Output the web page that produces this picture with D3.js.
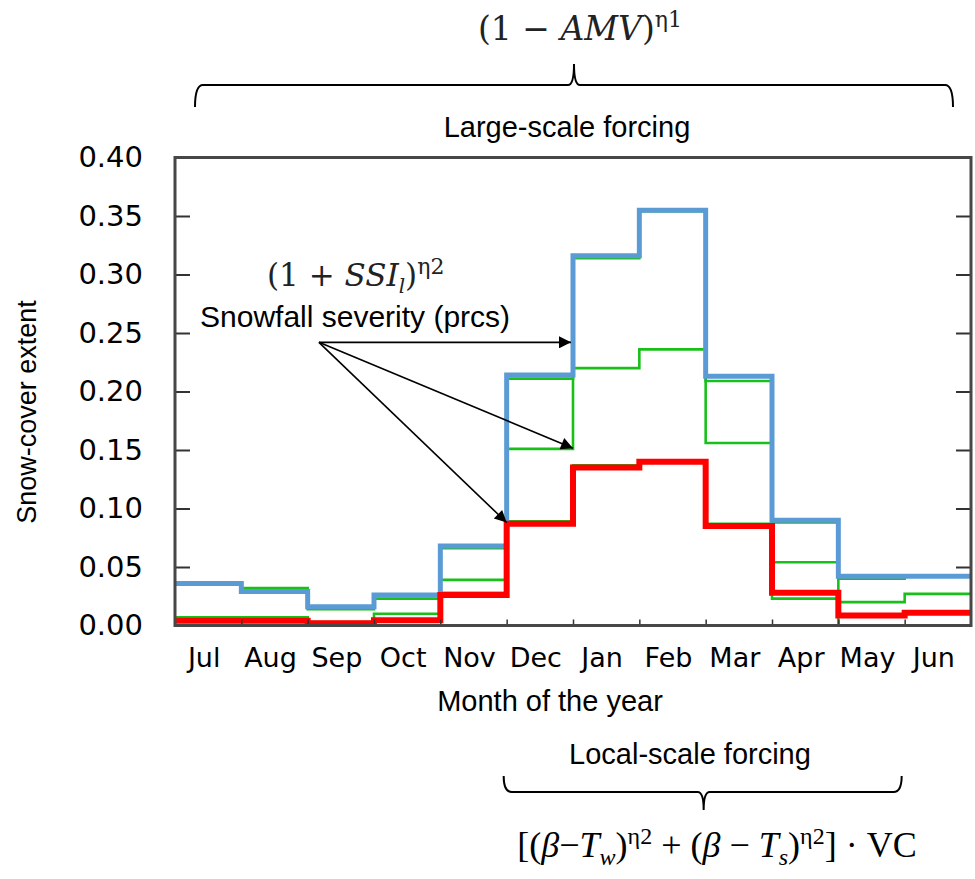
<!DOCTYPE html>
<html>
<head>
<meta charset="utf-8">
<script src="https://cdn.jsdelivr.net/npm/d3@7"></script>
<style>
body { margin: 0; background: #fff; }
.lbl { font-family: "Liberation Sans", Arial, sans-serif; font-size: 29px; fill: #000; }
.tk text { font-family: "DejaVu Sans", sans-serif; fill: #000; }
.fm { font-family: "DejaVu Serif", serif; fill: #222; }
.fm2 { font-family: "Liberation Serif", "Times New Roman", serif; fill: #000; }
</style>
</head>
<body>
<div id="chart"></div>
<script>
var months = ["Jul","Aug","Sep","Oct","Nov","Dec","Jan","Feb","Mar","Apr","May","Jun"];
var yTicks = [0, 0.05, 0.10, 0.15, 0.20, 0.25, 0.30, 0.35, 0.40];

// snow-cover extent per month
var blueVals  = [0.036, 0.029, 0.016, 0.026, 0.068, 0.214, 0.316, 0.355, 0.213, 0.090, 0.042, 0.042];
var greenHigh = [0.035, 0.032, 0.014, 0.023, 0.066, 0.211, 0.314, 0.354, 0.209, 0.088, 0.040, 0.042];
var greenMid  = [0.007, 0.007, 0.003, 0.010, 0.039, 0.151, 0.220, 0.236, 0.156, 0.054, 0.020, 0.027];
var greenLow  = [0.004, 0.004, 0.001, 0.005, 0.028, 0.089, 0.137, 0.141, 0.087, 0.023, 0.000, 0.000];
var redVals   = [0.004, 0.004, 0.002, 0.0045, 0.026, 0.087, 0.135, 0.140, 0.085, 0.028, 0.0085, 0.011];

var W = 975, H = 879;
var L = 175, R = 971, T = 157.5, B = 625.5;

var svg = d3.select("#chart").append("svg").attr("width", W).attr("height", H);

var xLin = d3.scaleLinear().domain([0, 12]).range([L, R]);
var xBand = d3.scaleBand().domain(months).range([L, R]);
var y = d3.scaleLinear().domain([0, 0.4]).range([B, T]);

var line = d3.line()
    .curve(d3.curveStepAfter)
    .x(function(d) { return xLin(d[0]); })
    .y(function(d) { return y(d[1]); });

function steps(vals) {
	var pts = vals.map(function(v, i) { return [i, v]; });
	pts.push([vals.length, vals[vals.length - 1]]);
	return pts;
}

svg.append("defs").append("clipPath").attr("id", "clip")
	.append("rect").attr("x", L).attr("y", T).attr("width", R - L).attr("height", B - T);

var series = [
	{ vals: greenLow,  color: "#19c019", w: 2.6 },
	{ vals: greenMid,  color: "#19c019", w: 2.6 },
	{ vals: greenHigh, color: "#19c019", w: 2.6 },
	{ vals: blueVals,  color: "#5b9bd5", w: 5 },
	{ vals: redVals,   color: "#ff0000", w: 6 }
];

var plot = svg.append("g").attr("clip-path", "url(#clip)");
for (var k = 0; k < series.length; k++) {
	plot.append("path").datum(steps(series[k].vals))
		.attr("fill", "none")
		.attr("stroke", series[k].color)
		.attr("stroke-width", series[k].w)
		.attr("stroke-linejoin", "miter")
		.attr("d", line);
}

// y axis, ticks pointing inward
var yAxis = d3.axisLeft(y).tickValues(yTicks).tickFormat(d3.format(".2f")).tickSize(-15).tickPadding(32);
var gy = svg.append("g").attr("class", "tk").attr("transform", "translate(" + L + ",0)").call(yAxis);
gy.select(".domain").remove();
gy.selectAll("line").attr("stroke", "#333").attr("stroke-width", 2);
gy.selectAll("text").attr("font-size", 29);

var gyr = svg.append("g").attr("class", "tk").attr("transform", "translate(" + R + ",0)")
	.call(d3.axisRight(y).tickValues(yTicks).tickSize(-15).tickFormat(""));
gyr.select(".domain").remove();
gyr.selectAll("line").attr("stroke", "#333").attr("stroke-width", 2);

// x axis: month labels plus short ticks at bin edges
var xAxis = d3.axisBottom(xBand).tickSize(0).tickPadding(22);
var gx = svg.append("g").attr("class", "tk").attr("transform", "translate(0," + B + ")").call(xAxis);
gx.select(".domain").remove();
gx.selectAll("text").attr("font-size", 27).attr("dx", -4);

var gxe = svg.append("g").attr("class", "tk").attr("transform", "translate(0," + B + ")")
	.call(d3.axisBottom(xLin).tickValues(d3.range(1, 12)).tickSize(-6).tickFormat(""));
gxe.select(".domain").remove();
gxe.selectAll("line").attr("stroke", "#333").attr("stroke-width", 1.5);

// frame
svg.append("rect").attr("x", L).attr("y", T).attr("width", R - L).attr("height", B - T)
	.attr("fill", "none").attr("stroke", "#474747").attr("stroke-width", 3);

// axis titles
svg.append("text").attr("class", "lbl").attr("text-anchor", "middle")
	.attr("x", 550).attr("y", 711).text("Month of the year");
svg.append("text").attr("class", "lbl").attr("text-anchor", "middle")
	.style("font-size", "27px")
	.attr("transform", "translate(36,412) rotate(-90)").text("Snow-cover extent");

// arrows for snowfall severity
svg.append("defs").append("marker").attr("id", "head")
	.attr("viewBox", "0 0 10 10").attr("refX", 10).attr("refY", 5)
	.attr("markerWidth", 17).attr("markerHeight", 12).attr("markerUnits", "userSpaceOnUse")
	.attr("orient", "auto")
	.append("path").attr("d", "M0,0 L10,5 L0,10 z").attr("fill", "#000");

var origin = [xLin(2.17), y(0.242)];
var tips = [[xLin(6) - 2, y(0.242)], [xLin(6), y(0.1515)], [xLin(5), y(0.088)]];
svg.selectAll(".arr").data(tips).enter().append("line").attr("class", "arr")
	.attr("x1", origin[0]).attr("y1", origin[1])
	.attr("x2", function(d) { return d[0]; }).attr("y2", function(d) { return d[1]; })
	.attr("stroke", "#000").attr("stroke-width", 1.6)
	.attr("marker-end", "url(#head)");

svg.append("text").attr("class", "lbl").attr("x", 200).attr("y", 327).style("font-size", "30px").text("Snowfall severity (prcs)");

// (1 + SSI_l)^η2
var f2 = svg.append("text").attr("class", "fm").attr("x", 267).attr("y", 286).style("font-size", "31px");
f2.append("tspan").text("(1 + ");
f2.append("tspan").attr("font-style", "italic").text("SSI");
f2.append("tspan").attr("font-style", "italic").style("font-size", "20px").attr("dy", 7).text("l");
f2.append("tspan").attr("dy", -7).text(")");
f2.append("tspan").style("font-size", "22px").attr("dy", -12).text("η2");

// top brace: large-scale forcing
var tx0 = xLin(0) + 20, tx1 = xLin(12) - 18, tc = xLin(6) + 1;
svg.append("path")
	.attr("d", "M" + tx0 + ",107 Q" + tx0 + ",85 " + (tx0 + 8) + ",85 L" + (tc - 6) + ",85 Q" + tc + ",85 " + tc + ",64 Q" + tc + ",85 " + (tc + 6) + ",85 L" + (tx1 - 8) + ",85 Q" + tx1 + ",85 " + tx1 + ",107")
	.attr("fill", "none").attr("stroke", "#000").attr("stroke-width", 2);
svg.append("text").attr("class", "lbl").attr("text-anchor", "middle").attr("x", 567).attr("y", 137).text("Large-scale forcing");

var f1 = svg.append("text").attr("class", "fm").attr("text-anchor", "middle").attr("x", 580).attr("y", 40).style("font-size", "33px");
f1.append("tspan").text("(1 − ");
f1.append("tspan").attr("font-style", "italic").text("AMV");
f1.append("tspan").text(")");
f1.append("tspan").style("font-size", "22px").attr("dy", -13).text("η1");

// bottom brace: local-scale forcing
var bx0 = xLin(5) - 3, bx1 = xLin(11) - 3, bc = xLin(8) - 2;
svg.append("path")
	.attr("d", "M" + bx0 + ",776 Q" + bx0 + ",792 " + (bx0 + 8) + ",792 L" + (bc - 6) + ",792 Q" + bc + ",792 " + bc + ",810 Q" + bc + ",792 " + (bc + 6) + ",792 L" + (bx1 - 8) + ",792 Q" + bx1 + ",792 " + bx1 + ",776")
	.attr("fill", "none").attr("stroke", "#000").attr("stroke-width", 2);
svg.append("text").attr("class", "lbl").attr("text-anchor", "middle").attr("x", 690).attr("y", 764).text("Local-scale forcing");

var f3 = svg.append("text").attr("class", "fm2").attr("text-anchor", "middle").attr("x", 717).attr("y", 857).style("font-size", "36px");
f3.append("tspan").text("[(");
f3.append("tspan").attr("font-style", "italic").text("β");
f3.append("tspan").text("−");
f3.append("tspan").attr("font-style", "italic").text("T");
f3.append("tspan").attr("font-style", "italic").style("font-size", "24px").attr("dy", 8).text("w");
f3.append("tspan").attr("dy", -8).text(")");
f3.append("tspan").style("font-size", "24px").attr("dy", -13).text("η2");
f3.append("tspan").attr("dy", 13).text(" + (");
f3.append("tspan").attr("font-style", "italic").text("β");
f3.append("tspan").text(" − ");
f3.append("tspan").attr("font-style", "italic").text("T");
f3.append("tspan").attr("font-style", "italic").style("font-size", "24px").attr("dy", 8).text("s");
f3.append("tspan").attr("dy", -8).text(")");
f3.append("tspan").style("font-size", "24px").attr("dy", -13).text("η2");
f3.append("tspan").attr("dy", 13).text("] · VC");
</script>
</body>
</html>
